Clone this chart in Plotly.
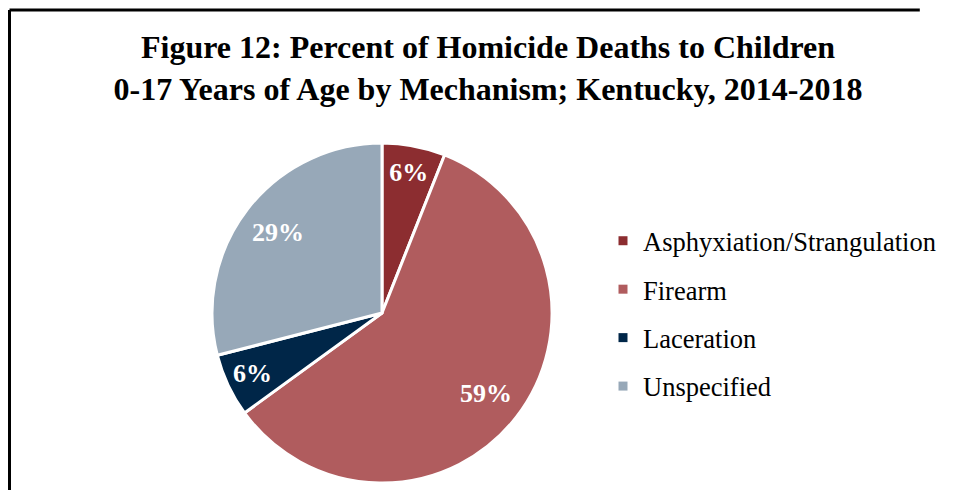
import plotly.graph_objects as go

categories = ["Asphyxiation/Strangulation", "Firearm", "Laceration", "Unspecified"]
percents = [6, 59, 6, 29]
colors = ["#8C2D30", "#B05C5E", "#002648", "#97A8B8"]

W, H = 940, 482
serif = "Liberation Serif, Times New Roman, serif"
pie_domain = dict(x=[204 / W, 544 / W], y=[1 - 475 / H, 1 - 135 / H])

fig = go.Figure()
fig.add_trace(go.Pie(
    labels=categories, values=percents, sort=False, direction="clockwise", rotation=0,
    marker=dict(colors=colors, line=dict(color="white", width=3)),
    textinfo="none", showlegend=False, hoverinfo="label+percent",
    domain=pie_domain,
))
fig.add_trace(go.Pie(
    labels=categories, values=percents, sort=False, direction="clockwise", rotation=0,
    hole=0.55,
    marker=dict(colors=["rgba(0,0,0,0)"] * len(categories), line=dict(width=0)),
    texttemplate="%{value}%", textposition="inside", insidetextorientation="horizontal",
    insidetextfont=dict(family=serif, size=26, color="white", weight="bold"),
    showlegend=False, hoverinfo="label+percent",
    domain=pie_domain,
))

for i, (c, col) in enumerate(zip(categories, colors)):
    fig.add_trace(go.Scatter(
        x=[None], y=[None], mode="markers", name=c, legendgroup=f"g{i}",
        marker=dict(symbol="square", size=9, color=col), showlegend=True,
    ))

fig.update_layout(
    width=W, height=H,
    margin=dict(l=0, r=0, t=0, b=0),
    paper_bgcolor="white", plot_bgcolor="white",
    title=dict(
        text="<b>Figure 12: Percent of Homicide Deaths to Children</b><br><b>0-17 Years of Age by Mechanism; Kentucky, 2014-2018</b>",
        x=480 / W, xanchor="center", xref="paper",
        y=1 - 50 / H, yanchor="top", yref="container",
        font=dict(family=serif, size=32, color="black"),
    ),
    xaxis=dict(visible=False), yaxis=dict(visible=False),
    legend=dict(
        x=595 / W, xanchor="left", y=1 - 209 / H, yanchor="top",
        font=dict(family=serif, size=26.5, color="black"),
        tracegroupgap=11, bgcolor="rgba(0,0,0,0)",
    ),
    shapes=[
        dict(type="line", xref="paper", yref="paper", x0=1.5 / W, x1=0.97, y0=1 - 2 / H, y1=1 - 2 / H,
             line=dict(color="black", width=3)),
        dict(type="line", xref="paper", yref="paper", x0=1.5 / W, x1=1.5 / W, y0=0, y1=1 - 2 / H,
             line=dict(color="black", width=3)),
    ],
)

fig.write_html("out.html")
